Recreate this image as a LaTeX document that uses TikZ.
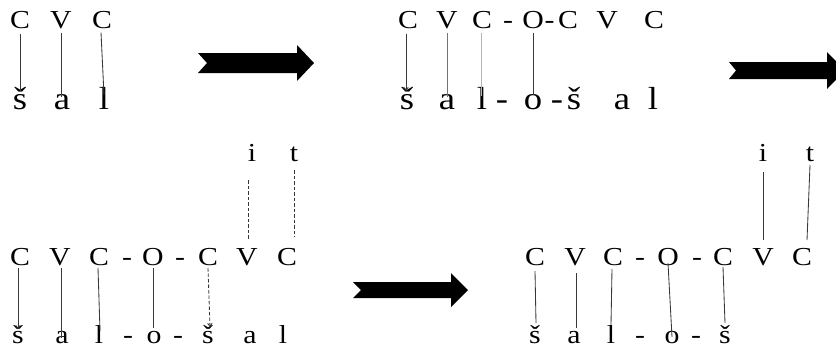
\documentclass[tikz,border=0pt]{standalone}
\usepackage{fontspec}
\setmainfont{Liberation Serif}[FakeStretch=1.15]
\usetikzlibrary{arrows.meta,calc}

\definecolor{paleblue}{RGB}{140,195,225}

\tikzset{
  glyph/.style={inner sep=0pt, anchor=base},
  seg/.style={glyph, font=\fontsize{26}{26}\selectfont},
  segbig/.style={glyph, font=\fontsize{32}{32}\selectfont},
  link/.style={draw=black!78, line width=0.85bp},
  dlink/.style={link, dash pattern=on 3.5bp off 2bp},
  tipped/.style={-{Straight Barb[length=3bp,width=4.5bp]}},
  shaft/.style={fill=black, draw=none}
}

\begin{document}
\begin{tikzpicture}[x=1bp,y=-1bp]
\useasboundingbox (0,0) rectangle (836,349);

% ---------- stage 1: CVC over s-caron a l ----------
\node[seg] (p1c1) at (20,28.5) {C};
\node[seg] (p1v1) at (61,28.5) {V};
\node[seg] (p1c2) at (102,28.5) {C};
\node[segbig] (p1s1) at (20,109) {š};
\node[segbig] (p1a1) at (62,109) {a};
\node[segbig] (p1l1) at (104,109) {l};
\draw[link] ($(p1c1.base)+(0,5.5)$) -- ($(p1s1.base)+(0,-18)$);
\draw[link] ($(p1v1.base)+(0,4.5)$) -- ($(p1a1.base)+(-1,-12)$);
\draw[link] ($(p1c2.base)+(-1,4)$) -- ($(p1l1.base)+(0,-14)$);

% ---------- stage 2: reduplicated template ----------
\node[seg] (p2c1) at (408,28.5) {C};
\node[seg] (p2v1) at (447,28.5) {V};
\node[seg] (p2c2) at (482,28.5) {C};
\node[seg] (p2h1) at (508,28.5) {-};
\node[seg] (p2o)  at (533,28.5) {O};
\node[seg] (p2h2) at (549.5,28.5) {-};
\node[seg] (p2c3) at (568,28.5) {C};
\node[seg] (p2v2) at (607,28.5) {V};
\node[seg] (p2c4) at (654,28.5) {C};
\node[segbig] (p2s1) at (407,109) {š};
\node[segbig] (p2a1) at (447,109) {a};
\node[segbig] (p2l1) at (482,109) {l};
\node[segbig] (p2d1) at (502,109) {-};
\node[segbig] (p2oo) at (533,109) {o};
\node[segbig] (p2d2) at (557,109) {-};
\node[segbig] (p2s2) at (574,109) {š};
\node[segbig] (p2a2) at (622,109) {a};
\node[segbig] (p2l2) at (653,109) {l};
\draw[link,tipped] ($(p2c1.base)+(-2,5)$) -- ($(p2s1.base)+(-1,-18)$);
\draw[link,draw=black!55] ($(p2v1.base)+(0,4.5)$) -- ($(p2a1.base)+(0,-12)$);
\draw[link,draw=paleblue] ($(p2c2.base)+(-1,4.5)$) -- ($(p2l1.base)+(-1,-13)$);
\draw[link] ($(p2o.base)+(0,4.5)$) -- ($(p2oo.base)+(0,-14)$);

% ---------- stage 3: association with i t (dashed) ----------
\node[seg] (p3c1) at (20,265) {C};
\node[seg] (p3v1) at (60,265) {V};
\node[seg] (p3c2) at (99,265) {C};
\node[seg] (p3h1) at (127,265) {-};
\node[seg] (p3o)  at (153,265) {O};
\node[seg] (p3h2) at (180,265) {-};
\node[seg] (p3c3) at (208,265) {C};
\node[seg] (p3v2) at (247,265) {V};
\node[seg] (p3c4) at (287,265) {C};
\node[seg] (p3i)  at (252,161) {i};
\node[seg] (p3t)  at (294,161) {t};
\node[seg] (p3s1) at (18,343) {š};
\node[seg] (p3a1) at (62,343) {a};
\node[seg] (p3l1) at (99,343) {l};
\node[seg] (p3d1) at (128,343) {-};
\node[seg] (p3oo) at (154,343) {o};
\node[seg] (p3d2) at (178,343) {-};
\node[seg] (p3s2) at (208,343) {š};
\node[seg] (p3a2) at (250,343) {a};
\node[seg] (p3l2) at (283,343) {l};
\draw[link,tipped] ($(p3c1.base)+(-2,3)$) -- ($(p3s1.base)+(0,-14)$);
\draw[link] ($(p3v1.base)+(1,3)$) -- ($(p3a1.base)+(-1,-5)$);
\draw[link] ($(p3c2.base)+(-1,3)$) -- ($(p3l1.base)+(1,-12)$);
\draw[link] ($(p3o.base)+(0,3)$) -- ($(p3oo.base)+(-1,-15)$);
\draw[dlink,tipped] ($(p3c3.base)+(0,3)$) -- ($(p3s2.base)+(2,-16)$);
\draw[dlink] ($(p3i.base)+(-4,19)$) -- ($(p3v2.base)+(1,-25)$);
\draw[dlink] ($(p3t.base)+(0,9)$) -- ($(p3c4.base)+(7,-28)$);

% ---------- stage 4: final form ----------
\node[seg] (p4c1) at (535,265) {C};
\node[seg] (p4v1) at (575,265) {V};
\node[seg] (p4c2) at (613,265) {C};
\node[seg] (p4h1) at (640,265) {-};
\node[seg] (p4o)  at (668,265) {O};
\node[seg] (p4h2) at (697,265) {-};
\node[seg] (p4c3) at (723,265) {C};
\node[seg] (p4v2) at (763,265) {V};
\node[seg] (p4c4) at (802,265) {C};
\node[seg] (p4i)  at (763,161) {i};
\node[seg] (p4t)  at (810,161) {t};
\node[seg] (p4s1) at (535,343) {š};
\node[seg] (p4a1) at (574,343) {a};
\node[seg] (p4l1) at (611,343) {l};
\node[seg] (p4d1) at (640,343) {-};
\node[seg] (p4oo) at (672,343) {o};
\node[seg] (p4d2) at (696,343) {-};
\node[seg] (p4s2) at (725,343) {š};
\draw[link] ($(p4c1.base)+(0,6)$) -- ($(p4s1.base)+(1,-20)$);
\draw[link] ($(p4v1.base)+(1,8)$) -- ($(p4a1.base)+(2,-15)$);
\draw[link] ($(p4c2.base)+(-1,4)$) -- ($(p4l1.base)+(0,-18)$);
\draw[link] ($(p4o.base)+(0,-2)$) -- ($(p4oo.base)+(0,-6)$);
\draw[link] ($(p4c3.base)+(0,2)$) -- ($(p4s2.base)+(0,-20)$);
\draw[link] ($(p4i.base)+(0,11)$) -- ($(p4v2.base)+(0,-25)$);
\draw[link] ($(p4t.base)+(0,4)$) -- ($(p4c4.base)+(5,-25)$);

% ---------- block arrows between stages ----------
\begin{scope}
\clip (0,0) rectangle (836,349);
\path[shaft] (198,53) -- (297,53) -- (297,45) -- (314,63) -- (297,81)
  -- (297,73) -- (198,73) -- (207,63) -- cycle;
\path[shaft] (729,62) -- (827,62) -- (827,52) -- (845,70.5) -- (827,89)
  -- (827,79) -- (729,79) -- (736,70.5) -- cycle;
\path[shaft] (353,282) -- (451,282) -- (451,273) -- (468,290) -- (451,307)
  -- (451,298) -- (353,298) -- (361,290) -- cycle;
\end{scope}
\end{tikzpicture}
\end{document}
